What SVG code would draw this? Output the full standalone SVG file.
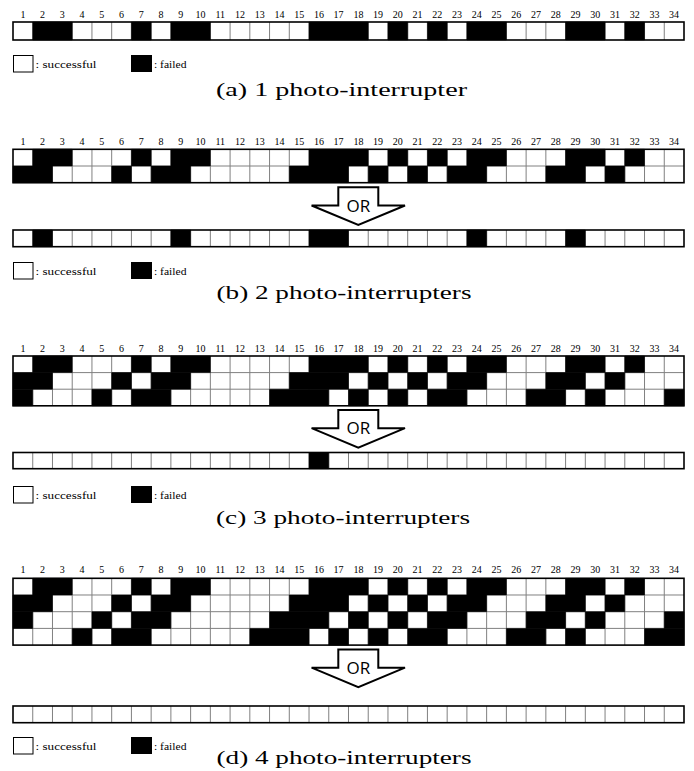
<svg xmlns="http://www.w3.org/2000/svg" xmlns:xlink="http://www.w3.org/1999/xlink" width="694" height="771" viewBox="0 0 694 771">
<style>
.bg{fill:#fff}
.g{fill:none;stroke:#808080;stroke-width:1}
.bk{fill:#000;stroke:#000;stroke-width:0.5}
.fr{fill:none;stroke:#000;stroke-width:1.6}
.num{font-family:"Liberation Serif","Times New Roman",serif;font-size:10px;fill:#000;text-anchor:middle}
.lg{font-family:"Liberation Serif","Times New Roman",serif;font-size:10.5px;fill:#000}
.cap{font-family:"Liberation Serif","Times New Roman",serif;font-size:19px;fill:#000}
.lw{fill:#fff;stroke:#000;stroke-width:1}
.lb{fill:#000}
.arr{fill:#fff;stroke:#000;stroke-width:2;stroke-linejoin:miter}
.or{font-family:"Open Sans","Liberation Sans",sans-serif;font-size:17px;fill:#000;text-anchor:middle}
</style>
<defs>
<path id="vl" vector-effect="non-scaling-stroke" d="M1 0v1M2 0v1M3 0v1M4 0v1M5 0v1M6 0v1M7 0v1M8 0v1M9 0v1M10 0v1M11 0v1M12 0v1M13 0v1M14 0v1M15 0v1M16 0v1M17 0v1M18 0v1M19 0v1M20 0v1M21 0v1M22 0v1M23 0v1M24 0v1M25 0v1M26 0v1M27 0v1M28 0v1M29 0v1M30 0v1M31 0v1M32 0v1M33 0v1"/>
<path id="rA" vector-effect="non-scaling-stroke" d="M1 0h2v1h-2zM6 0h1v1h-1zM8 0h2v1h-2zM15 0h3v1h-3zM19 0h1v1h-1zM21 0h1v1h-1zM23 0h2v1h-2zM28 0h2v1h-2zM31 0h1v1h-1z"/>
<path id="rB" vector-effect="non-scaling-stroke" d="M0 0h2v1h-2zM5 0h1v1h-1zM7 0h2v1h-2zM14 0h3v1h-3zM18 0h1v1h-1zM20 0h1v1h-1zM22 0h2v1h-2zM27 0h2v1h-2zM30 0h1v1h-1z"/>
<path id="rC" vector-effect="non-scaling-stroke" d="M0 0h1v1h-1zM4 0h1v1h-1zM6 0h2v1h-2zM13 0h3v1h-3zM17 0h1v1h-1zM19 0h1v1h-1zM21 0h2v1h-2zM26 0h2v1h-2zM29 0h1v1h-1zM33 0h1v1h-1z"/>
<path id="rD" vector-effect="non-scaling-stroke" d="M3 0h1v1h-1zM5 0h2v1h-2zM12 0h3v1h-3zM16 0h1v1h-1zM18 0h1v1h-1zM20 0h2v1h-2zM25 0h2v1h-2zM28 0h1v1h-1zM32 0h2v1h-2z"/>
<polygon id="arrow" points="-20,0 20,0 20,18.2 46.7,18.2 0,37.7 -46.7,18.2 -20,18.2"/>
</defs>

<!-- (a) -->
<g id="panel-a">
<text class="num" y="18.3"><tspan x="22.9">1</tspan><tspan x="42.6">2</tspan><tspan x="62.3">3</tspan><tspan x="82.1">4</tspan><tspan x="101.8">5</tspan><tspan x="121.5">6</tspan><tspan x="141.3">7</tspan><tspan x="161">8</tspan><tspan x="180.7">9</tspan><tspan x="200.5">10</tspan><tspan x="220.2">11</tspan><tspan x="240">12</tspan><tspan x="259.7">13</tspan><tspan x="279.4">14</tspan><tspan x="299.2">15</tspan><tspan x="318.9">16</tspan><tspan x="338.6">17</tspan><tspan x="358.4">18</tspan><tspan x="378.1">19</tspan><tspan x="397.8">20</tspan><tspan x="417.6">21</tspan><tspan x="437.3">22</tspan><tspan x="457">23</tspan><tspan x="476.8">24</tspan><tspan x="496.5">25</tspan><tspan x="516.2">26</tspan><tspan x="536">27</tspan><tspan x="555.7">28</tspan><tspan x="575.5">29</tspan><tspan x="595.2">30</tspan><tspan x="614.9">31</tspan><tspan x="634.7">32</tspan><tspan x="654.4">33</tspan><tspan x="674.1">34</tspan></text>
<g id="grid-a" transform="translate(13,22)">
<g transform="scale(19.735,18)">
<rect class="bg" width="34" height="1"/>
<use xlink:href="#vl" class="g"/>
<use xlink:href="#rA" class="bk"/>
</g>
<rect class="fr" width="671" height="18"/>
</g>
<g id="legend-a">
<rect class="lw" x="13.5" y="55.5" width="19.5" height="16.5"/><text class="lg" x="35.5" y="68.3" textLength="61" lengthAdjust="spacingAndGlyphs">: successful</text>
<rect class="lb" x="131" y="55" width="21" height="17"/><text class="lg" x="154" y="68.3" textLength="32.5" lengthAdjust="spacingAndGlyphs">: failed</text>
</g>
<text class="cap" x="216" y="95.5" textLength="251" lengthAdjust="spacingAndGlyphs">(a) 1 photo-interrupter</text>
</g>

<!-- (b) -->
<g id="panel-b">
<text class="num" y="145"><tspan x="22.9">1</tspan><tspan x="42.6">2</tspan><tspan x="62.3">3</tspan><tspan x="82.1">4</tspan><tspan x="101.8">5</tspan><tspan x="121.5">6</tspan><tspan x="141.3">7</tspan><tspan x="161">8</tspan><tspan x="180.7">9</tspan><tspan x="200.5">10</tspan><tspan x="220.2">11</tspan><tspan x="240">12</tspan><tspan x="259.7">13</tspan><tspan x="279.4">14</tspan><tspan x="299.2">15</tspan><tspan x="318.9">16</tspan><tspan x="338.6">17</tspan><tspan x="358.4">18</tspan><tspan x="378.1">19</tspan><tspan x="397.8">20</tspan><tspan x="417.6">21</tspan><tspan x="437.3">22</tspan><tspan x="457">23</tspan><tspan x="476.8">24</tspan><tspan x="496.5">25</tspan><tspan x="516.2">26</tspan><tspan x="536">27</tspan><tspan x="555.7">28</tspan><tspan x="575.5">29</tspan><tspan x="595.2">30</tspan><tspan x="614.9">31</tspan><tspan x="634.7">32</tspan><tspan x="654.4">33</tspan><tspan x="674.1">34</tspan></text>
<g id="grid-b" transform="translate(13,149.3)">
<g transform="scale(19.735,16.7)">
<rect class="bg" width="34" height="2"/>
<use xlink:href="#vl" class="g" transform="scale(1,2)"/>
<path class="g" vector-effect="non-scaling-stroke" d="M0 1H34"/>
<use xlink:href="#rA" class="bk"/>
<use xlink:href="#rB" class="bk" y="1"/>
</g>
<rect class="fr" width="671" height="33.4"/>
</g>
<g id="or-b" transform="translate(358.3,187.3)">
<use xlink:href="#arrow" class="arr"/>
<text class="or" x="0" y="24.3">OR</text>
</g>
<g id="result-b" transform="translate(13,230)">
<g transform="scale(19.735,16.7)">
<rect class="bg" width="34" height="1"/>
<use xlink:href="#vl" class="g"/>
<path class="bk" vector-effect="non-scaling-stroke" d="M1 0h1v1h-1zM8 0h1v1h-1zM15 0h2v1h-2zM23 0h1v1h-1zM28 0h1v1h-1z"/>
</g>
<rect class="fr" width="671" height="16.7"/>
</g>
<g id="legend-b">
<rect class="lw" x="13.5" y="262.5" width="19.5" height="16.5"/><text class="lg" x="35.5" y="275.3" textLength="61" lengthAdjust="spacingAndGlyphs">: successful</text>
<rect class="lb" x="131" y="262" width="21" height="17"/><text class="lg" x="154" y="275.3" textLength="32.5" lengthAdjust="spacingAndGlyphs">: failed</text>
</g>
<text class="cap" x="216.5" y="298.5" textLength="255" lengthAdjust="spacingAndGlyphs">(b) 2 photo-interrupters</text>
</g>

<!-- (c) -->
<g id="panel-c">
<text class="num" y="352"><tspan x="22.9">1</tspan><tspan x="42.6">2</tspan><tspan x="62.3">3</tspan><tspan x="82.1">4</tspan><tspan x="101.8">5</tspan><tspan x="121.5">6</tspan><tspan x="141.3">7</tspan><tspan x="161">8</tspan><tspan x="180.7">9</tspan><tspan x="200.5">10</tspan><tspan x="220.2">11</tspan><tspan x="240">12</tspan><tspan x="259.7">13</tspan><tspan x="279.4">14</tspan><tspan x="299.2">15</tspan><tspan x="318.9">16</tspan><tspan x="338.6">17</tspan><tspan x="358.4">18</tspan><tspan x="378.1">19</tspan><tspan x="397.8">20</tspan><tspan x="417.6">21</tspan><tspan x="437.3">22</tspan><tspan x="457">23</tspan><tspan x="476.8">24</tspan><tspan x="496.5">25</tspan><tspan x="516.2">26</tspan><tspan x="536">27</tspan><tspan x="555.7">28</tspan><tspan x="575.5">29</tspan><tspan x="595.2">30</tspan><tspan x="614.9">31</tspan><tspan x="634.7">32</tspan><tspan x="654.4">33</tspan><tspan x="674.1">34</tspan></text>
<g id="grid-c" transform="translate(13,356)">
<g transform="scale(19.735,16.6)">
<rect class="bg" width="34" height="3"/>
<use xlink:href="#vl" class="g" transform="scale(1,3)"/>
<path class="g" vector-effect="non-scaling-stroke" d="M0 1H34M0 2H34"/>
<use xlink:href="#rA" class="bk"/>
<use xlink:href="#rB" class="bk" y="1"/>
<use xlink:href="#rC" class="bk" y="2"/>
</g>
<rect class="fr" width="671" height="49.8"/>
</g>
<g id="or-c" transform="translate(358.3,410)">
<use xlink:href="#arrow" class="arr"/>
<text class="or" x="0" y="24.3">OR</text>
</g>
<g id="result-c" transform="translate(13,452.5)">
<g transform="scale(19.735,16.2)">
<rect class="bg" width="34" height="1"/>
<use xlink:href="#vl" class="g"/>
<path class="bk" vector-effect="non-scaling-stroke" d="M15 0h1v1h-1z"/>
</g>
<rect class="fr" width="671" height="16.2"/>
</g>
<g id="legend-c">
<rect class="lw" x="13.5" y="486.5" width="19.5" height="16.5"/><text class="lg" x="35.5" y="499.3" textLength="61" lengthAdjust="spacingAndGlyphs">: successful</text>
<rect class="lb" x="131" y="486" width="21" height="17"/><text class="lg" x="154" y="499.3" textLength="32.5" lengthAdjust="spacingAndGlyphs">: failed</text>
</g>
<text class="cap" x="216" y="524" textLength="254" lengthAdjust="spacingAndGlyphs">(c) 3 photo-interrupters</text>
</g>

<!-- (d) -->
<g id="panel-d">
<text class="num" y="573.3"><tspan x="22.9">1</tspan><tspan x="42.6">2</tspan><tspan x="62.3">3</tspan><tspan x="82.1">4</tspan><tspan x="101.8">5</tspan><tspan x="121.5">6</tspan><tspan x="141.3">7</tspan><tspan x="161">8</tspan><tspan x="180.7">9</tspan><tspan x="200.5">10</tspan><tspan x="220.2">11</tspan><tspan x="240">12</tspan><tspan x="259.7">13</tspan><tspan x="279.4">14</tspan><tspan x="299.2">15</tspan><tspan x="318.9">16</tspan><tspan x="338.6">17</tspan><tspan x="358.4">18</tspan><tspan x="378.1">19</tspan><tspan x="397.8">20</tspan><tspan x="417.6">21</tspan><tspan x="437.3">22</tspan><tspan x="457">23</tspan><tspan x="476.8">24</tspan><tspan x="496.5">25</tspan><tspan x="516.2">26</tspan><tspan x="536">27</tspan><tspan x="555.7">28</tspan><tspan x="575.5">29</tspan><tspan x="595.2">30</tspan><tspan x="614.9">31</tspan><tspan x="634.7">32</tspan><tspan x="654.4">33</tspan><tspan x="674.1">34</tspan></text>
<g id="grid-d" transform="translate(13,578.3)">
<g transform="scale(19.735,16.7)">
<rect class="bg" width="34" height="4"/>
<use xlink:href="#vl" class="g" transform="scale(1,4)"/>
<path class="g" vector-effect="non-scaling-stroke" d="M0 1H34M0 2H34M0 3H34"/>
<use xlink:href="#rA" class="bk"/>
<use xlink:href="#rB" class="bk" y="1"/>
<use xlink:href="#rC" class="bk" y="2"/>
<use xlink:href="#rD" class="bk" y="3"/>
</g>
<rect class="fr" width="671" height="66.8"/>
</g>
<g id="or-d" transform="translate(358.3,649.5)">
<use xlink:href="#arrow" class="arr"/>
<text class="or" x="0" y="24.3">OR</text>
</g>
<g id="result-d" transform="translate(13,706)">
<g transform="scale(19.735,16.7)">
<rect class="bg" width="34" height="1"/>
<use xlink:href="#vl" class="g"/>
</g>
<rect class="fr" width="671" height="16.7"/>
</g>
<g id="legend-d">
<rect class="lw" x="13.5" y="737.5" width="19.5" height="16.5"/><text class="lg" x="35.5" y="750.3" textLength="61" lengthAdjust="spacingAndGlyphs">: successful</text>
<rect class="lb" x="131" y="737" width="21" height="17"/><text class="lg" x="154" y="750.3" textLength="32.5" lengthAdjust="spacingAndGlyphs">: failed</text>
</g>
<text class="cap" x="216.5" y="764" textLength="255" lengthAdjust="spacingAndGlyphs">(d) 4 photo-interrupters</text>
</g>
</svg>
